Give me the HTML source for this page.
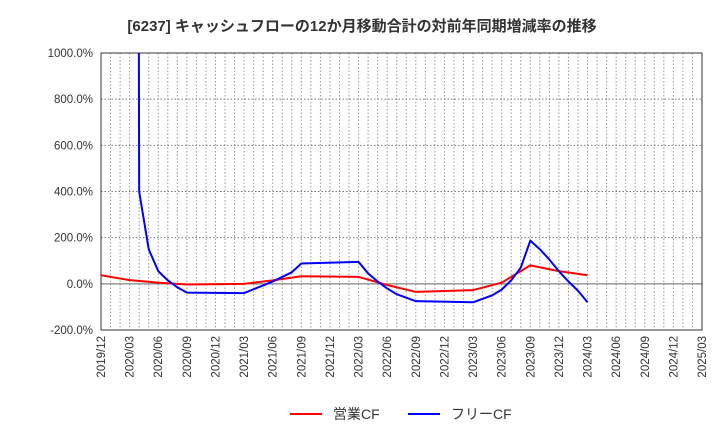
<!DOCTYPE html>
<html><head><meta charset="utf-8"><style>
body{margin:0;background:#fff;font-family:"Liberation Sans","Noto Sans CJK JP",sans-serif}
</style></head><body>
<svg id="c" width="720" height="440" xmlns="http://www.w3.org/2000/svg">
<text x="362" y="31" text-anchor="middle" font-size="15" font-weight="bold" fill="#333" font-family="Liberation Sans, Noto Sans CJK JP, sans-serif">[6237]  キャッシュフローの12か月移動合計の対前年同期増減率の推移</text>
<defs><clipPath id="pc"><rect x="101" y="53" width="601" height="277"/></clipPath></defs>
<g id="grid"></g><g id="axes"></g>
<g clip-path="url(#pc)" id="series"></g>
<g>
<line x1="290" y1="414" x2="322" y2="414" stroke="#f00" stroke-width="2"/>
<text x="333" y="419" font-size="14" fill="#333">営業CF</text>
<line x1="408" y1="414" x2="440" y2="414" stroke="#00f" stroke-width="2"/>
<text x="451" y="419" font-size="14" fill="#333">フリーCF</text>
</g>
</svg>
<script>
const yTicks=[1000,800,600,400,200,0,-200];
const xLabels=["2019/12","2020/03","2020/06","2020/09","2020/12","2021/03","2021/06","2021/09","2021/12","2022/03","2022/06","2022/09","2022/12","2023/03","2023/06","2023/09","2023/12","2024/03","2024/06","2024/09","2024/12","2025/03"];
const opMonths=[0,3,6,9,15,18,21,27,30,33,39,42,45,48,51];
const opValues=[37,16,5,-3,0,15,33,30,-5,-35,-27,5,80,55,37];
const freeMonths=[3,4,5,6,7,8,9,15,18,20,21,27,28,29,30,31,33,39,41,42,43,44,45,46,47,48,49,50,51];
const freeValues=[20000,400,150,55,15,-15,-38,-40,10,50,88,95,45,10,-20,-45,-75,-80,-50,-25,15,70,187,150,105,55,10,-30,-80];
const X0=101,X1=702,Y0=53,Y1=330,NM=63;
const xs=m=>X0+m*(X1-X0)/NM;
const ys=v=>Y1-(v+200)*(Y1-Y0)/1200;
const NS="http://www.w3.org/2000/svg";
function mk(p,t,a){const e=document.createElementNS(NS,t);for(const k in a)e.setAttribute(k,a[k]);p.appendChild(e);return e;}
const g=document.getElementById('grid'),ax=document.getElementById('axes'),sr=document.getElementById('series');
for(let m=1;m<NM;m++){const l=mk(g,'line',{x1:xs(m),x2:xs(m),y1:Y0,y2:Y1,stroke:'#999','stroke-dasharray':'1.5,2','stroke-width':1});

}
yTicks.forEach(v=>{const y=ys(v);
if(v!==1000&&v!==-200){const l=mk(g,'line',{x1:X0,x2:X1,y1:y,y2:y,stroke:v===0?'#666':'#777','stroke-dasharray':v===0?'':'1.5,2','stroke-width':1});

}
const t=mk(ax,'text',{x:X0-8,y:y+4,'text-anchor':'end','font-size':11.5,fill:'#333'});t.textContent=v.toFixed(1)+'%';

});
const fr=mk(ax,'rect',{x:X0,y:Y0,width:X1-X0,height:Y1-Y0,fill:'none',stroke:'#333','stroke-width':1});


xLabels.forEach((s,i)=>{const x=xs(i*3);const t=mk(ax,'text',{x:0,y:0,'text-anchor':'end','font-size':11.5,fill:'#333',transform:`translate(${x+4},${Y1+6}) rotate(-90)`});t.textContent=s;

});
function line(ms,vs,c,name){const p=mk(sr,'polyline',{points:ms.map((m,i)=>xs(m)+','+ys(vs[i])).join(' '),fill:'none',stroke:c,'stroke-width':2,'stroke-linejoin':'round'});

}
line(opMonths,opValues,'#f00','operating-cf-line');
line(freeMonths,freeValues,'#00f','free-cf-line');
</script>
</body></html>
